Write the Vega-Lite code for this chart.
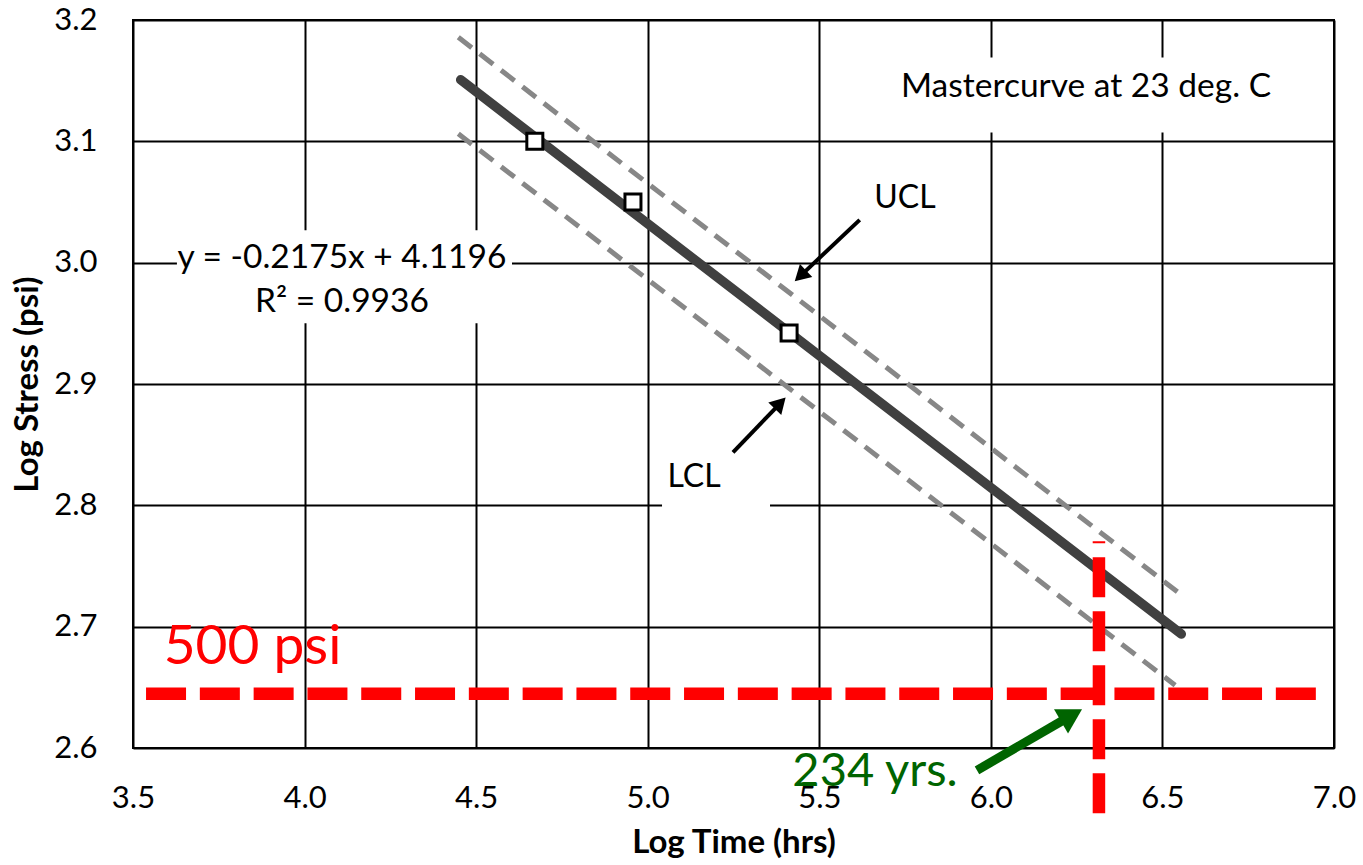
{
  "$schema": "https://vega.github.io/schema/vega-lite/v6.json",
  "width": 1201,
  "height": 728,
  "autosize": "none",
  "padding": {"left": 133, "top": 20, "right": 29, "bottom": 117},
  "background": "white",
  "config": {
    "view": {"stroke": "#000", "strokeWidth": 2},
    "font": "Lato",
    "axis": {
      "labelFont": "Lato", "labelFontSize": 31, "labelColor": "#000", "labelFlush": false, "labelOverlap": false,
      "titleFont": "Lato", "titleFontSize": 33, "titleFontWeight": "bold", "titleColor": "#000",
      "gridColor": "#000", "gridWidth": 2, "gridOpacity": 1,
      "domain": false, "ticks": false
    }
  },
  "datasets": {
    "boxes": [
      {"name": "eq", "t": 3.628, "t2": 4.6045, "s": 3.0267, "s2": 2.950},
      {"name": "mc", "t": 5.677, "t2": 6.886, "s": 3.1691, "s2": 3.1073},
      {"name": "lcl", "t": 5.0417, "t2": 5.3564, "s": 2.8412, "s2": 2.7588}
    ],
    "bands": [
      {"band": "UCL", "t": 4.448, "s": 3.1857},
      {"band": "UCL", "t": 6.562, "s": 2.7247},
      {"band": "LCL", "t": 4.448, "s": 3.1062},
      {"band": "LCL", "t": 6.537, "s": 2.6517}
    ],
    "fit": [
      {"t": 4.455, "s": 3.1507},
      {"t": 6.555, "s": 2.6939}
    ],
    "points": [
      {"t": 4.671, "s": 3.100},
      {"t": 4.957, "s": 3.050},
      {"t": 5.412, "s": 2.942}
    ],
    "hline": [{"t": 3.538, "t2": 6.9475, "s": 2.6448}],
    "vline": [{"t": 6.315, "s": 2.5462, "s2": 2.7704}],
    "arrows": [
      {"name": "UCL", "t": 5.6178, "s": 3.0353, "t2": 5.4537, "s2": 2.9914},
      {"name": "LCL", "t": 5.2485, "s": 2.8437, "t2": 5.3776, "s2": 2.8816},
      {"name": "yrs", "t": 5.9596, "s": 2.5816, "t2": 6.2156, "s2": 2.6237}
    ],
    "heads": [
      {"name": "UCL", "t": 5.4450, "s": 2.9891},
      {"name": "LCL", "t": 5.3861, "s": 2.8842},
      {"name": "yrs", "t": 6.2351, "s": 2.6269}
    ],
    "biglabels": [
      {"text": "y = -0.2175x + 4.1196", "t": 4.109, "s": 2.9954},
      {"text": "R² = 0.9936", "t": 4.109, "s": 2.9591},
      {"text": "Mastercurve at 23 deg. C", "t": 6.2773, "s": 3.1366}
    ],
    "labels": [
      {"text": "UCL", "t": 5.7498, "s": 3.0448},
      {"text": "LCL", "t": 5.1349, "s": 2.8149}
    ],
    "redlabel": [{"text": "500 psi", "t": 3.8483, "s": 2.6693}],
    "greenlabel": [{"text": "234 yrs.", "t": 5.6624, "s": 2.5684}]
  },
  "layer": [
    {
      "data": {"name": "boxes"},
      "mark": {"type": "rect", "fill": "white", "stroke": null},
      "encoding": {
        "x": {"field": "t", "type": "quantitative", "scale": {"domain": [3.5, 7], "nice": false, "zero": false},
              "axis": {"values": [3.5, 4, 4.5, 5, 5.5, 6, 6.5, 7], "format": ".1f", "title": "Log Time (hrs)", "labelPadding": 35, "titlePadding": 13, "grid": true}},
        "x2": {"field": "t2"},
        "y": {"field": "s", "type": "quantitative", "scale": {"domain": [2.6, 3.2], "nice": false, "zero": false},
              "axis": {"values": [2.6, 2.7, 2.8, 2.9, 3.0, 3.1, 3.2], "format": ".1f", "title": "Log Stress (psi)", "labelPadding": 36, "titlePadding": 9, "grid": true}},
        "y2": {"field": "s2"}
      }
    },
    {
      "data": {"name": "bands"},
      "mark": {"type": "line", "color": "#878787", "strokeWidth": 5, "strokeDash": [17, 10]},
      "encoding": {
        "x": {"field": "t", "type": "quantitative"},
        "y": {"field": "s", "type": "quantitative"},
        "detail": {"field": "band"}
      }
    },
    {
      "data": {"name": "fit"},
      "mark": {"type": "line", "color": "#404040", "strokeWidth": 9.5, "strokeCap": "round"},
      "encoding": {
        "x": {"field": "t", "type": "quantitative"},
        "y": {"field": "s", "type": "quantitative"}
      }
    },
    {
      "data": {"name": "points"},
      "mark": {"type": "point", "shape": "square", "size": 256, "filled": false, "fill": "white", "fillOpacity": 1, "stroke": "#000", "strokeWidth": 3, "opacity": 1},
      "encoding": {
        "x": {"field": "t", "type": "quantitative"},
        "y": {"field": "s", "type": "quantitative"}
      }
    },
    {
      "data": {"name": "hline"},
      "mark": {"type": "rule", "color": "#ff0000", "strokeWidth": 12.5, "strokeDash": [40, 13.8], "strokeCap": "butt"},
      "encoding": {
        "x": {"field": "t", "type": "quantitative"},
        "x2": {"field": "t2"},
        "y": {"field": "s", "type": "quantitative"}
      }
    },
    {
      "data": {"name": "vline"},
      "mark": {"type": "rule", "color": "#ff0000", "strokeWidth": 12.5, "strokeDash": [40, 14], "strokeCap": "butt"},
      "encoding": {
        "x": {"field": "t", "type": "quantitative"},
        "y": {"field": "s", "type": "quantitative"},
        "y2": {"field": "s2"}
      }
    },
    {
      "data": {"name": "arrows"},
      "transform": [{"filter": "datum.name !== 'yrs'"}],
      "mark": {"type": "rule", "color": "#000", "strokeWidth": 4},
      "encoding": {
        "x": {"field": "t", "type": "quantitative"},
        "y": {"field": "s", "type": "quantitative"},
        "x2": {"field": "t2"},
        "y2": {"field": "s2"}
      }
    },
    {
      "data": {"name": "arrows"},
      "transform": [{"filter": "datum.name === 'yrs'"}],
      "mark": {"type": "rule", "color": "#006400", "strokeWidth": 9},
      "encoding": {
        "x": {"field": "t", "type": "quantitative"},
        "y": {"field": "s", "type": "quantitative"},
        "x2": {"field": "t2"},
        "y2": {"field": "s2"}
      }
    },
    {
      "data": {"name": "heads"},
      "transform": [{"filter": "datum.name === 'UCL'"}],
      "mark": {"type": "point", "shape": "triangle-up", "filled": true, "color": "#000", "size": 324, "angle": 226.6, "opacity": 1},
      "encoding": {
        "x": {"field": "t", "type": "quantitative"},
        "y": {"field": "s", "type": "quantitative"}
      }
    },
    {
      "data": {"name": "heads"},
      "transform": [{"filter": "datum.name === 'LCL'"}],
      "mark": {"type": "point", "shape": "triangle-up", "filled": true, "color": "#000", "size": 324, "angle": 43.9, "opacity": 1},
      "encoding": {
        "x": {"field": "t", "type": "quantitative"},
        "y": {"field": "s", "type": "quantitative"}
      }
    },
    {
      "data": {"name": "heads"},
      "transform": [{"filter": "datum.name === 'yrs'"}],
      "mark": {"type": "point", "shape": "triangle-up", "filled": true, "color": "#006400", "size": 784, "angle": 60, "opacity": 1},
      "encoding": {
        "x": {"field": "t", "type": "quantitative"},
        "y": {"field": "s", "type": "quantitative"}
      }
    },
    {
      "data": {"name": "biglabels"},
      "mark": {"type": "text", "font": "Lato", "fontSize": 33.5, "color": "#000", "align": "center", "baseline": "alphabetic"},
      "encoding": {
        "x": {"field": "t", "type": "quantitative"},
        "y": {"field": "s", "type": "quantitative"},
        "text": {"field": "text"}
      }
    },
    {
      "data": {"name": "labels"},
      "mark": {"type": "text", "font": "Lato", "fontSize": 32, "color": "#000", "align": "center", "baseline": "alphabetic"},
      "encoding": {
        "x": {"field": "t", "type": "quantitative"},
        "y": {"field": "s", "type": "quantitative"},
        "text": {"field": "text"}
      }
    },
    {
      "data": {"name": "redlabel"},
      "mark": {"type": "text", "font": "Lato", "fontSize": 55, "color": "#ff0000", "align": "center", "baseline": "alphabetic"},
      "encoding": {
        "x": {"field": "t", "type": "quantitative"},
        "y": {"field": "s", "type": "quantitative"},
        "text": {"field": "text"}
      }
    },
    {
      "data": {"name": "greenlabel"},
      "mark": {"type": "text", "font": "Lato", "fontSize": 47, "color": "#006400", "align": "center", "baseline": "alphabetic"},
      "encoding": {
        "x": {"field": "t", "type": "quantitative"},
        "y": {"field": "s", "type": "quantitative"},
        "text": {"field": "text"}
      }
    }
  ]
}
